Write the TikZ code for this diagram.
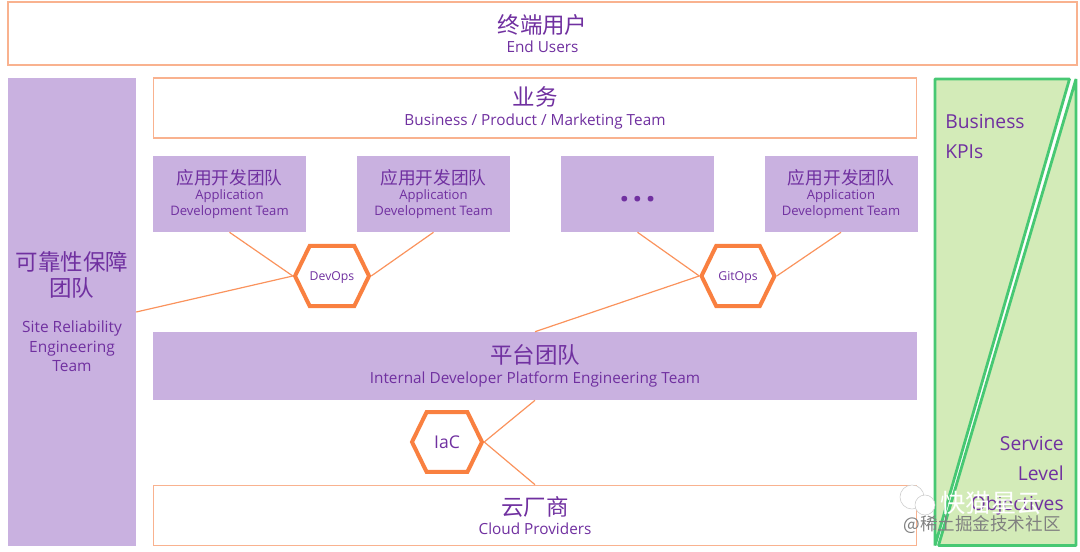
\documentclass[tikz,border=0pt]{standalone}
\usepackage{fontspec}
\setmainfont{Open Sans}
\newfontfamily\cjk{Noto Sans CJK SC}
\usetikzlibrary{shapes.symbols}
\definecolor{tx}{HTML}{7030A0}
\definecolor{lil}{HTML}{C9B1E0}
\definecolor{ora}{HTML}{F9B28F}
\definecolor{hexo}{HTML}{F98040}
\definecolor{grn}{HTML}{47C873}
\definecolor{lgr}{HTML}{D3EBB8}
\newcommand{\zh}[2]{{\cjk\fontsize{#1}{#1}\selectfont #2}}

\begin{document}
\begin{tikzpicture}[x=0.25mm, y=-0.25mm,
                every node/.style={text=tx, align=center, inner sep=0mm},
                bx/.style={draw=ora, line width=0.4mm, fill=white, font=\fontsize{10.9}{14.5}\selectfont},
                pl/.style={fill=lil, font=\fontsize{10.9}{14.5}\selectfont},
                tm/.style={fill=lil, minimum width=38.25mm, minimum height=19mm, font=\fontsize{9.3}{11.6}\selectfont},
                hx/.style={signal, signal to=west and east, signal pointer angle=128, draw=hexo, line width=1mm, fill=white, minimum height=15.1mm, text depth=0mm},
                ln/.style={hexo!85, line width=0.3mm},
                sd/.style={fill=lgr, draw=grn, line width=0.7mm, miter limit=1},
                kp/.style={font=\fontsize{13.7}{21.4}\selectfont}]

    \useasboundingbox (0, 0) rectangle (1080, 552); % same size as the reference

    \node [bx, minimum width=267.25mm, minimum height=15.75mm] (users) at (542.5, 33.5) {\zh{16}{终端用户}\\[-0.4mm]End Users};
    \node [pl, minimum width=32mm, minimum height=117mm, font=\fontsize{11}{14}\selectfont] (sre) at (72, 312) {\zh{16}{可靠性保障}\\[1mm]\zh{16}{团队}\\[4mm]Site Reliability\\Engineering\\Team};
    \node [bx, minimum width=190.75mm, minimum height=15mm] (biz) at (535, 108) {\zh{16}{业务}\\Business / Product / Marketing Team};

    \node [tm] (app1) at (229.5, 194) {\zh{12.6}{应用开发团队}\\[-0.25mm]Application\\Development Team};
    \node [tm] (app2) at (433.5, 194) {\zh{12.6}{应用开发团队}\\[-0.25mm]Application\\Development Team};
    \node [tm, font=\bfseries\fontsize{24}{24}\selectfont, text height=4mm, text depth=0mm] (app3) at (637.5, 194) {.\hspace{2.5pt}.\hspace{2.5pt}.};
    \node [tm] (app4) at (841, 194) {\zh{12.6}{应用开发团队}\\[-0.25mm]Application\\Development Team};

    \node [pl, minimum width=190.75mm, minimum height=17mm] (plat) at (535, 366) {\zh{16}{平台团队}\\Internal Developer Platform Engineering Team};
    \node [bx, minimum width=190.75mm, minimum height=15mm] (cloud) at (535, 515.5) {\zh{16}{云厂商}\\[-0.2mm]Cloud Providers};

    \node [hx, minimum width=18.5mm, font=\fontsize{8.7}{8.7}\selectfont] (devops) at (332, 276) {DevOps};
    \node [hx, minimum width=18.25mm, font=\fontsize{8.7}{8.7}\selectfont] (gitops) at (738, 276) {GitOps};
    \node [hx, minimum width=17.5mm, minimum height=14.9mm, font=\fontsize{12.5}{12.5}\selectfont] (iac) at (447, 442) {IaC};

    \draw [ln] (app1.south) -- (devops.west);
    \draw [ln] (app2.south) -- (devops.east);
    \draw [ln] (sre.east) -- (devops.west);
    \draw [ln] (app3.south) -- (gitops.west);
    \draw [ln] (app4.south) -- (gitops.east);
    \draw [ln] (plat.north) -- (gitops.west);
    \draw [ln] (plat.south) -- (iac.east);
    \draw [ln] (cloud.north) -- (iac.east);

    \filldraw [sd] (935, 79) -- (1069.5, 79) -- (935, 545.5) -- cycle;
    \filldraw [sd] (1076, 79) -- (1076, 545.5) -- (938.5, 545.5) -- cycle;
    \node [kp, anchor=north west, align=left] (kpi) at (945, 114) {Business\\KPIs};
    \node [kp, anchor=north east, align=right] (slo) at (1064, 436) {Service\\Level\\Objectives};

    % watermark
    \node [draw=gray!40, fill=white, circle, minimum size=6mm] (wc1) at (912, 497) {};
    \node [draw=gray!40, fill=white, circle, minimum size=5mm] (wc2) at (925, 505) {};
    \node [text=white] (wm1) at (991, 503) {\zh{18}{快猫星云}};
    \node [text=gray] (wm2) at (982, 525) {\zh{12.5}{@稀土掘金技术社区}};
\end{tikzpicture}
\end{document}
